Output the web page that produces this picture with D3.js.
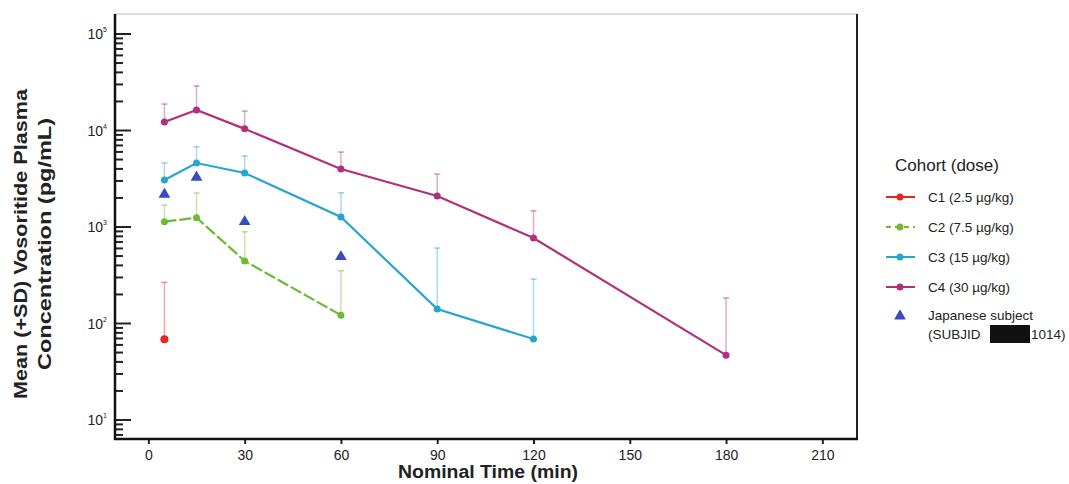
<!DOCTYPE html>
<html><head><meta charset="utf-8">
<script src="https://cdn.jsdelivr.net/npm/d3@7"></script>
<style>body{margin:0;background:#fff;} svg{display:block;font-family:"Liberation Sans",Arial,sans-serif;}</style>
</head><body><svg id="c" width="1069" height="484"></svg>
<script>
const xTicks = [0, 30, 60, 90, 120, 150, 180, 210];
const yTickExps = [1, 2, 3, 4, 5];

const c1Time = [5];
const c1Mean = [68.6];
const c1SD = [267];

const c2Time = [5, 15, 30, 60];
const c2Mean = [1135, 1250, 445, 122];
const c2SD = [1690, 2250, 893, 352];

const c3Time = [5, 15, 30, 60, 90, 120];
const c3Mean = [3070, 4600, 3630, 1270, 141, 69];
const c3SD = [4600, 6790, 5440, 2260, 605, 289];

const c4Time = [5, 15, 30, 60, 90, 120, 180];
const c4Mean = [12240, 16300, 10400, 3990, 2095, 769, 47];
const c4SD = [18800, 28900, 15900, 5980, 3540, 1470, 184];

const jpTime = [5, 15, 30, 60];
const jpConc = [2180, 3270, 1135, 492];

const seriesNames = ["C1 (2.5 µg/kg)", "C2 (7.5 µg/kg)", "C3 (15 µg/kg)", "C4 (30 µg/kg)"];
const seriesColors = ["#e5261c", "#6dbb35", "#27a5cf", "#b1307d"];

const series = [
  {t: c1Time, m: c1Mean, sd: c1SD, dash: null},
  {t: c2Time, m: c2Mean, sd: c2SD, dash: "12,3"},
  {t: c3Time, m: c3Mean, sd: c3SD, dash: null},
  {t: c4Time, m: c4Mean, sd: c4SD, dash: null}
];

const svg = d3.select("#c");
const L = 115, R = 857, T = 14, B = 439;
const x = d3.scaleLinear().domain([-10.4, 220.8]).range([L, R]);
const y = d3.scaleLog().domain([Math.pow(10, 5 - (B - 34) / 96.5), Math.pow(10, 5 + (34 - T) / 96.5)]).range([B, T]);

// frame
svg.append("line").attr("x1", L).attr("x2", R).attr("y1", T).attr("y2", T).attr("stroke", "#d0d0d0").attr("stroke-width", 1.5);
svg.append("line").attr("x1", R).attr("x2", R).attr("y1", T).attr("y2", B).attr("stroke", "#222").attr("stroke-width", 2);

// y axis ticks (inside)
const yAxis = svg.append("g");
const [lo, hi] = y.domain();
for (let e = 0; e <= 5; e++) {
  for (let k = 1; k <= 9; k++) {
    const v = k * Math.pow(10, e);
    if (v < lo || v > hi) continue;
    const major = k === 1;
    yAxis.append("line").attr("x1", L).attr("x2", L + (major ? 16 : 8))
      .attr("y1", y(v)).attr("y2", y(v)).attr("stroke", "#222").attr("stroke-width", 2);
  }
}
yTickExps.forEach(e => {
  const tx = yAxis.append("text").attr("x", 107).attr("y", y(Math.pow(10, e)) + 5)
    .attr("text-anchor", "end").attr("font-size", 14).attr("fill", "#222");
  tx.append("tspan").text("10");
  tx.append("tspan").attr("font-size", 7).attr("dy", -7).text(e);
});

// x axis
const xAxis = svg.append("g").attr("transform", `translate(0,${B})`)
  .call(d3.axisBottom(x).tickValues(xTicks).tickSize(5).tickPadding(6).tickSizeOuter(0));
xAxis.select(".domain").remove();
xAxis.selectAll(".tick line").attr("stroke", "#222").attr("stroke-width", 2);
xAxis.selectAll(".tick text").attr("font-size", 14).attr("fill", "#222").attr("font-family", "Liberation Sans, Arial, sans-serif");

svg.append("line").attr("x1", L).attr("x2", L).attr("y1", T).attr("y2", B + 1).attr("stroke", "#111").attr("stroke-width", 2.5);
svg.append("line").attr("x1", L - 1).attr("x2", R + 1).attr("y1", B).attr("y2", B).attr("stroke", "#111").attr("stroke-width", 2.5);

// error bars
series.forEach((s, i) => {
  const g = svg.append("g");
  s.t.forEach((t, j) => {
    g.append("line").attr("x1", x(t)).attr("x2", x(t)).attr("y1", y(s.m[j])).attr("y2", y(s.sd[j]))
      .attr("stroke", seriesColors[i]).attr("stroke-opacity", 0.4).attr("stroke-width", 1.5);
    g.append("line").attr("x1", x(t) - 3).attr("x2", x(t) + 3).attr("y1", y(s.sd[j])).attr("y2", y(s.sd[j]))
      .attr("stroke", seriesColors[i]).attr("stroke-opacity", 0.5).attr("stroke-width", 1.5);
  });
});

// lines and markers
const line = d3.line().x(d => x(d[0])).y(d => y(d[1]));
series.forEach((s, i) => {
  const pts = s.t.map((t, j) => [t, s.m[j]]);
  svg.append("path").attr("d", line(pts)).attr("fill", "none").attr("stroke", seriesColors[i])
    .attr("stroke-width", 2.2).attr("stroke-dasharray", s.dash);
  svg.append("g").selectAll("circle").data(pts).join("circle")
    .attr("cx", d => x(d[0])).attr("cy", d => y(d[1])).attr("r", i === 0 ? 4 : 3.5).attr("fill", seriesColors[i]);
});

// Japanese subject
const tri = d3.symbol().type(d3.symbolTriangle).size(60);
svg.append("g").selectAll("path").data(jpTime.map((t, j) => [t, jpConc[j]])).join("path")
  .attr("d", tri).attr("transform", d => `translate(${x(d[0])},${y(d[1])})`).attr("fill", "#3a4dbf");

// axis titles
svg.append("text").attr("x", 488).attr("y", 478).attr("text-anchor", "middle")
  .attr("font-size", 18).attr("font-weight", "bold").attr("fill", "#222")
  .attr("textLength", 180).attr("lengthAdjust", "spacingAndGlyphs").text("Nominal Time (min)");
const yt = svg.append("g").attr("transform", "translate(27,244) rotate(-90)");
yt.append("text").attr("x", 0).attr("y", 0).attr("text-anchor", "middle").attr("font-size", 18)
  .attr("font-weight", "bold").attr("fill", "#222").attr("textLength", 310).attr("lengthAdjust", "spacingAndGlyphs")
  .text("Mean (+SD) Vosoritide Plasma");
yt.append("text").attr("x", 0).attr("y", 24).attr("text-anchor", "middle").attr("font-size", 18)
  .attr("font-weight", "bold").attr("fill", "#222").attr("textLength", 252).attr("lengthAdjust", "spacingAndGlyphs")
  .text("Concentration (pg/mL)");

// legend
const lg = svg.append("g");
lg.append("text").attr("x", 895).attr("y", 171).attr("font-size", 17).attr("fill", "#222").text("Cohort (dose)");
seriesNames.forEach((n, i) => {
  const yy = 197 + i * 30;
  lg.append("line").attr("x1", 886).attr("x2", 915).attr("y1", yy).attr("y2", yy)
    .attr("stroke", seriesColors[i]).attr("stroke-width", 2).attr("stroke-dasharray", series[i].dash ? "5,4" : null);
  lg.append("circle").attr("cx", 900).attr("cy", yy).attr("r", 3.5).attr("fill", seriesColors[i]);
  lg.append("text").attr("x", 928).attr("y", yy + 5).attr("font-size", 13.5).attr("fill", "#222").text(n);
});
lg.append("path").attr("d", tri).attr("transform", "translate(900,316)").attr("fill", "#3a4dbf");
lg.append("text").attr("x", 928).attr("y", 320).attr("font-size", 13.5).attr("fill", "#222").text("Japanese subject");
lg.append("text").attr("x", 928).attr("y", 339).attr("font-size", 13.5).attr("fill", "#222").text("(SUBJID");
lg.append("rect").attr("x", 990).attr("y", 325).attr("width", 40).attr("height", 18).attr("fill", "#111");
lg.append("text").attr("x", 1031).attr("y", 339).attr("font-size", 13.5).attr("fill", "#222").text("1014)");
</script></body></html>
